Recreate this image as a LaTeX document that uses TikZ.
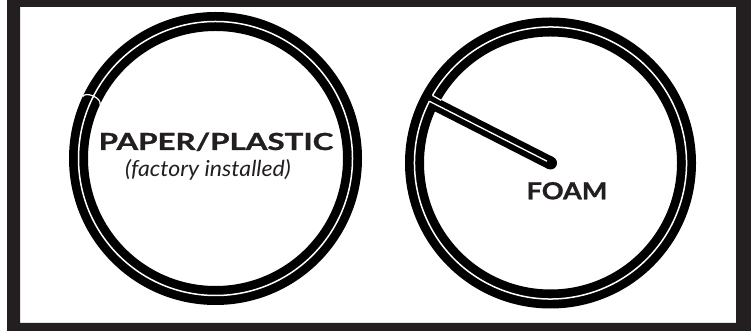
\documentclass[tikz,border=0pt]{standalone}
\usepackage{fontspec}
\setmainfont{Lato}[BoldFeatures={FakeBold=1}]
\usetikzlibrary{calc}
\definecolor{framecol}{HTML}{231F20}
\begin{document}
\begin{tikzpicture}[x=1pt,y=1pt,
  ringblack/.style={line width=19pt, black},
  ringwhite/.style={line width=1.5pt, white},
  bold lbl/.style={inner sep=0pt, anchor=base, text=framecol, transform shape, font=\bfseries\fontsize{23.5}{24}\selectfont},
  ital lbl/.style={inner sep=0pt, anchor=base, text=framecol, transform shape, font=\itshape\fontsize{22}{24}\selectfont}]
\fill[white] (0,0) rectangle (751,331);
\useasboundingbox (0,0) rectangle (751,331);
\fill[framecol, even odd rule] (7,0) rectangle (751,331) (20,8) rectangle (736,324);
% left ring
\coordinate (CL) at (215.5,172.5);
\draw[ringblack] (CL) circle[radius=137];
\draw[ringwhite] (CL) circle[radius=137];
\begin{scope}[shift={($(CL)+(155:137)$)}, rotate=65]
\draw[white, line width=1.2pt] (0,9.5) arc[start angle=90,end angle=-90,x radius=5,y radius=9.5];
\end{scope}
% right ring
\coordinate (CR) at (550.5,168);
\coordinate (J) at ($(CR)+(153:136)$);
\coordinate (JS) at ($(CR)+(150.2:136)$);
\coordinate (JI) at ($(CR)+(150.2:126)$);
\coordinate (SE) at ($(CR)!4pt!(J)$);
\draw[ringblack] (CR) circle[radius=136];
\draw[black, line width=13pt] (J) -- (CR);
\fill[black] (CR) circle[radius=6.5];
\draw[ringwhite] (J) arc[start angle=153, end angle=510.2, radius=136];
\draw[white, line width=1.3pt] (J) -- (SE);
\draw[white, line width=1.3pt] (JS) -- (JI);
% labels
\node[bold lbl, xscale=1.33] (pp) at (216,181) {PAPER/PLASTIC};
\node[ital lbl, xscale=1.05] (fi) at (208,154.3) {(factory installed)};
\node[bold lbl, xscale=1.15] (foam) at (567,131.7) {FOAM};
\end{tikzpicture}
\end{document}
